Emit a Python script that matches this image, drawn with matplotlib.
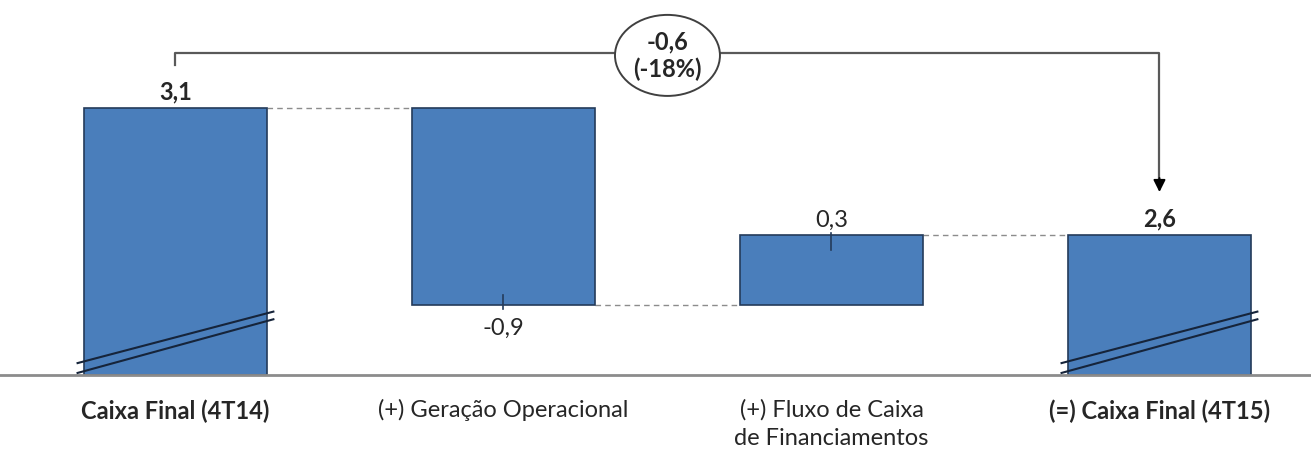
import matplotlib.pyplot as plt
from matplotlib.patches import Ellipse

plt.rcParams['font.family'] = ['Lato', 'DejaVu Sans']

# waterfall data (bn), labels as printed on the chart
categories = ["Caixa Final (4T14)", "(+) Geração Operacional",
              "(+) Fluxo de Caixa\nde Financiamentos", "(=) Caixa Final (4T15)"]
values = [3.14, -0.90, 0.32, 2.56]
value_labels = ["3,1", "-0,9", "0,3", "2,6"]
is_total = [True, False, False, True]
delta_label = "-0,6\n(-18%)"

BAR_FACE = "#4a7ebb"
BAR_EDGE = "#243b5a"
TXT = "#262626"
FS = 17
Y_BASE = 1.92          # broken axis: bars start here, not at zero
W = 0.557

fig = plt.figure(figsize=(13.11, 4.59), dpi=100)
ax = fig.add_axes([0, 0, 1, 1])
ax.set_xlim(-0.535, 3.462)
ax.set_ylim(1.537, 3.633)
ax.axis("off")

# compute bar extents
bottoms, tops = [], []
running = 0.0
for v, tot in zip(values, is_total):
    if tot:
        bottoms.append(Y_BASE)
        tops.append(v)
        running = v
    else:
        lo, hi = sorted((running, running + v))
        bottoms.append(lo)
        tops.append(hi)
        running += v

xs = list(range(len(values)))
ax.bar(xs, [t - b for t, b in zip(tops, bottoms)], bottom=bottoms, width=W,
       color=BAR_FACE, edgecolor=BAR_EDGE, linewidth=1.2, zorder=3)

# baseline
ax.axhline(Y_BASE, color="#8c8c8c", lw=2, zorder=4)

# dashed connectors between bars
levels = [tops[0], bottoms[1], tops[2]]
for i, lvl in enumerate(levels):
    ax.plot([i + W / 2, i + 1 - W / 2], [lvl, lvl], ls=(0, (4, 3)),
            color="#8c8c8c", lw=1, zorder=2)

# break marks on the total bars
for i, tot in enumerate(is_total):
    if not tot:
        continue
    x0, x1 = i - W / 2 - 0.02, i + W / 2 + 0.02
    ax.plot([x0, x1], [Y_BASE + 0.055, Y_BASE + 0.29], color="#16243a", lw=1.5, zorder=5)
    ax.plot([x0, x1], [Y_BASE + 0.01, Y_BASE + 0.255], color="#16243a", lw=1.5, zorder=5)

# small centre ticks on the change bars
ax.plot([1, 1], [bottoms[1] - 0.02, bottoms[1] + 0.045], color="#243b5a", lw=1.2, zorder=5)
ax.plot([2, 2], [tops[2] + 0.01, tops[2] - 0.07], color="#243b5a", lw=1.2, zorder=5)

# value labels
for i, (lab, tot) in enumerate(zip(value_labels, is_total)):
    if values[i] < 0:
        ax.annotate(lab, (i, bottoms[i]), xytext=(0, -9), textcoords="offset points",
                    ha="center", va="top", fontsize=FS, color=TXT)
    else:
        ax.annotate(lab, (i, tops[i]), xytext=(0, 3), textcoords="offset points",
                    ha="center", va="bottom", fontsize=FS, color=TXT,
                    fontweight="bold" if tot else "normal")

# category labels
for i, (cat, tot) in enumerate(zip(categories, is_total)):
    ax.text(i, 1.81, cat, ha="center", va="top", fontsize=FS, color=TXT,
            linespacing=1.45, fontweight="bold" if tot else "normal")

# bracket with arrow from first total to last total
y_br = tops[0] + 0.25
ax.plot([0, 0, 3, 3], [tops[0] + 0.196, y_br, y_br, tops[3] + 0.24],
        color="#595959", lw=1.6, zorder=2)
ax.annotate("", xy=(3, tops[3] + 0.196), xytext=(3, tops[3] + 0.26),
            arrowprops=dict(arrowstyle="-|>", color="black", lw=1.4,
                            mutation_scale=18, shrinkA=0, shrinkB=0))
ax.add_patch(Ellipse((1.5, y_br - 0.01), 0.32, 0.37, facecolor="white",
                     edgecolor="#404040", lw=1.4, zorder=6))
ax.text(1.5, y_br - 0.01, delta_label, ha="center", va="center", fontsize=FS,
        fontweight="bold", color=TXT, linespacing=1.2, zorder=7)

fig.savefig("out.png", dpi=100)
